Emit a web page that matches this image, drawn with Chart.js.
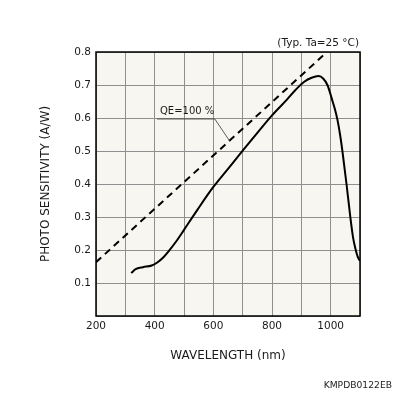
<!DOCTYPE html>
<html>
<head>
<meta charset="utf-8">
<script src="https://cdn.jsdelivr.net/npm/chart.js@4/dist/chart.umd.min.js"></script>
<style>
  html, body { margin: 0; padding: 0; background: #fff; }
  #wrap { width: 396px; height: 396px; }
</style>
</head>
<body>
<div id="wrap"><canvas id="chart" width="396" height="396"></canvas></div>
<script>
// Photo sensitivity curve
const wavelengths = [320, 335, 360, 390, 410, 430, 450, 475, 500, 545, 600, 650, 700, 750, 800,
  850, 880, 910, 935, 959, 975, 989, 1005, 1015, 1023, 1032, 1040, 1054, 1067, 1076, 1084, 1092, 1100];
const sensitivity = [0.130, 0.142, 0.148, 0.153, 0.163, 0.178, 0.199, 0.228, 0.261, 0.321, 0.391, 0.446, 0.501, 0.555, 0.608,
  0.655, 0.685, 0.710, 0.722, 0.727, 0.719, 0.700, 0.655, 0.625, 0.595, 0.550, 0.500, 0.400, 0.300, 0.240, 0.205, 0.180, 0.167];

// QE=100 % reference line (end points)
const qeWavelengths = [200, 985];
const qeSensitivity = [0.163, 0.798];

// axis ticks
const xTickLabels = [200, 400, 600, 800, 1000];
const yTickLabels = [0.1, 0.2, 0.3, 0.4, 0.5, 0.6, 0.7, 0.8];

// QE label + leader line, in data units
const qeLabel = 'QE=100 %';
const qeLabelAt = [418, 0.619];
const qeLeader = [[408, 0.597], [605, 0.597], [656, 0.530]];

const textColor = '#1a1a1a';
const fontFamily = '"DejaVu Sans", Verdana, sans-serif';

const frame = {
  id: 'frame',
  beforeDraw(chart) {
    const { ctx, chartArea: a } = chart;
    ctx.save();
    ctx.fillStyle = '#f7f6f0';
    ctx.fillRect(a.left, a.top, a.right - a.left, a.bottom - a.top);
    ctx.restore();
  },
  beforeDatasetsDraw(chart) {
    const { ctx, chartArea: a } = chart;
    ctx.save();
    ctx.strokeStyle = '#000';
    ctx.lineWidth = 1.5;
    ctx.strokeRect(a.left, a.top, a.right - a.left, a.bottom - a.top);
    ctx.restore();
  },
  afterDraw(chart) {
    const { ctx, chartArea: a, scales: { x, y } } = chart;
    ctx.save();
    ctx.fillStyle = textColor;
    ctx.textBaseline = 'middle';

    ctx.font = '10.5px ' + fontFamily;
    ctx.textAlign = 'right';
    ctx.fillText('(Typ. Ta=25 °C)', a.right - 1, a.top - 9);

    ctx.font = '9.2px ' + fontFamily;
    ctx.fillText('KMPDB0122EB', 392, 386);

    // QE annotation
    ctx.font = '10px ' + fontFamily;
    ctx.textAlign = 'left';
    ctx.fillText(qeLabel, x.getPixelForValue(qeLabelAt[0]), y.getPixelForValue(qeLabelAt[1]));
    ctx.strokeStyle = '#333';
    ctx.lineWidth = 0.8;
    ctx.beginPath();
    qeLeader.forEach(([wl, v], i) => {
      const px = x.getPixelForValue(wl), py = y.getPixelForValue(v);
      if (i === 0) ctx.moveTo(px, py); else ctx.lineTo(px, py);
    });
    ctx.stroke();
    ctx.restore();
  }
};

const ctx = document.getElementById('chart').getContext('2d');
new Chart(ctx, {
  type: 'line',
  data: {
    datasets: [
      {
        label: 'Photo sensitivity',
        data: wavelengths.map((wl, i) => ({ x: wl, y: sensitivity[i] })),
        borderColor: '#000',
        borderWidth: 2,
        pointRadius: 0,
        cubicInterpolationMode: 'monotone',
        fill: false
      },
      {
        label: 'QE=100 %',
        data: qeWavelengths.map((wl, i) => ({ x: wl, y: qeSensitivity[i] })),
        borderColor: '#000',
        borderWidth: 2,
        borderDash: [7, 5],
        pointRadius: 0,
        fill: false
      }
    ]
  },
  options: {
    responsive: false,
    animation: false,
    layout: { padding: { top: 52, right: 36, left: 0, bottom: 0 } },
    plugins: { legend: { display: false }, tooltip: { enabled: false } },
    scales: {
      x: {
        type: 'linear',
        min: 200,
        max: 1100,
        afterFit: scale => { scale.height = 80; },
        grid: { color: '#8f8f8f', lineWidth: 1, drawTicks: false },
        border: { display: false },
        ticks: {
          stepSize: 100,
          padding: 4,
          maxRotation: 0,
          autoSkip: false,
          color: textColor,
          font: { family: fontFamily, size: 10.5 },
          callback: v => xTickLabels.includes(v) ? String(v) : ''
        },
        title: {
          display: true,
          text: 'WAVELENGTH (nm)',
          color: textColor,
          font: { family: fontFamily, size: 12 },
          padding: { top: 0, bottom: 33 }
        }
      },
      y: {
        min: 0,
        max: 0.8,
        afterFit: scale => { scale.width = 96; },
        grid: { color: '#8f8f8f', lineWidth: 1, drawTicks: false },
        border: { display: false },
        ticks: {
          stepSize: 0.1,
          padding: 5,
          autoSkip: false,
          color: textColor,
          font: { family: fontFamily, size: 10.5 },
          callback: v => {
            const r = Math.round(v * 10) / 10;
            return yTickLabels.includes(r) ? r.toFixed(1) : '';
          }
        },
        title: {
          display: true,
          text: 'PHOTO SENSITIVITY (A/W)',
          color: textColor,
          font: { family: fontFamily, size: 12 },
          padding: { top: 39, bottom: 0 }
        }
      }
    }
  },
  plugins: [frame]
});
</script>
</body>
</html>
